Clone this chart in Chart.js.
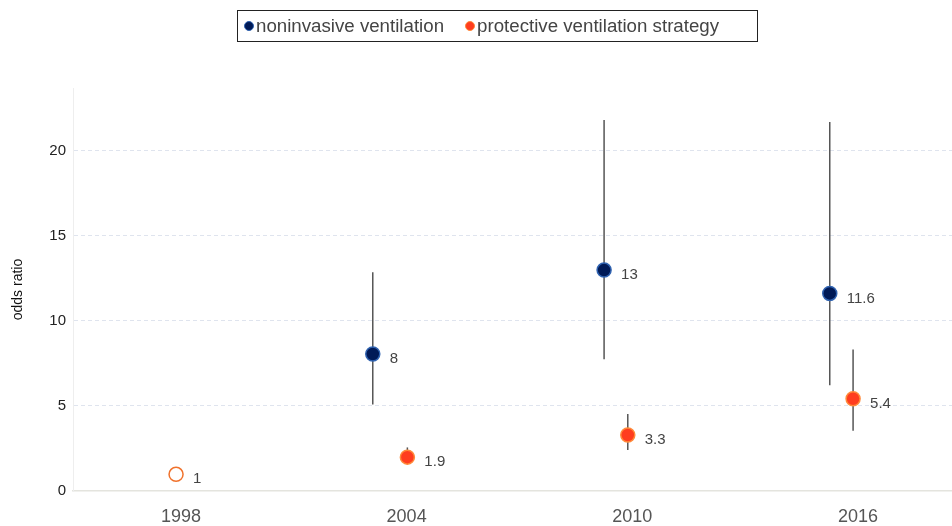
<!DOCTYPE html>
<html>
<head>
<meta charset="utf-8">
<script src="https://cdn.jsdelivr.net/npm/chart.js@4/dist/chart.umd.min.js"></script>
<style>
  html, body { margin: 0; padding: 0; background: #fff; overflow: hidden; }
  #wrap { position: relative; width: 952px; height: 526px; }
  #legend {
    position: absolute; left: 237px; top: 10px; width: 519px; height: 30px;
    border: 1px solid #222; font-family: "Liberation Sans", Arial, sans-serif;
    font-size: 18.7px; color: #444; display: flex; align-items: center; box-sizing: content-box;
  }
  .item { display: flex; align-items: center; white-space: nowrap; }
  .dot { display: inline-block; width: 10px; height: 10px; border-radius: 50%; margin-right: 2px; box-sizing: border-box; }
</style>
</head>
<body>
<div id="wrap">
  <canvas id="c" width="952" height="526"></canvas>
  <div id="legend"></div>
</div>
<script>
// ---- data ----
const tickYears = [1998, 2004, 2010, 2016];
const seriesNames = ["noninvasive ventilation", "protective ventilation strategy"];

const niX = [2003.10, 2009.25, 2015.25];
const niOR = [8.05, 12.98, 11.61];
const niLo = [5.08, 7.74, 6.21];
const niHi = [12.86, 21.8, 21.68];
const niLabels = ["8", "13", "11.6"];

const pvX = [1997.87, 2004.02, 2009.88, 2015.87];
const pvOR = [0.98, 1.99, 3.29, 5.42];
const pvLo = [null, 1.65, 2.41, 3.54];
const pvHi = [null, 2.56, 4.52, 8.32];
const pvLabels = ["1", "1.9", "3.3", "5.4"];

// ---- styles ----
const NAVY = "#001a57", NAVY_EDGE = "#2f62b0";
const ORANGE = "#ff3d1f", ORANGE_EDGE = "#ff8a3a", HOLLOW_EDGE = "#f0722c";
const FONT = "'Liberation Sans', Arial, Helvetica, sans-serif";

// HTML legend
const legendColors = [[NAVY, NAVY_EDGE], [ORANGE, ORANGE_EDGE]];
const legendEl = document.getElementById("legend");
seriesNames.forEach((name, i) => {
  const it = document.createElement("span");
  it.className = "item";
  it.style.marginLeft = i === 0 ? "6px" : "21px";
  const d = document.createElement("span");
  d.className = "dot";
  d.style.background = legendColors[i][0];
  d.style.border = "1px solid " + legendColors[i][1];
  it.appendChild(d);
  it.appendChild(document.createTextNode(name));
  legendEl.appendChild(it);
});

const errorBars = [
  { x: niX, lo: niLo, hi: niHi },
  { x: pvX, lo: pvLo, hi: pvHi }
];
const pointLabels = [niLabels, pvLabels];

const errorBarPlugin = {
  id: "errorBars",
  beforeDatasetsDraw(chart) {
    const { ctx, scales } = chart;
    ctx.save();
    ctx.strokeStyle = "#555";
    ctx.lineWidth = 1.5;
    errorBars.forEach(s => {
      s.x.forEach((xv, i) => {
        if (s.lo[i] == null) return;
        const px = scales.x.getPixelForValue(xv);
        ctx.beginPath();
        ctx.moveTo(px, scales.y.getPixelForValue(s.lo[i]));
        ctx.lineTo(px, scales.y.getPixelForValue(s.hi[i]));
        ctx.stroke();
      });
    });
    ctx.restore();
  }
};

const labelPlugin = {
  id: "pointLabels",
  afterDatasetsDraw(chart) {
    const { ctx } = chart;
    ctx.save();
    ctx.font = "15px " + FONT;
    ctx.fillStyle = "#444";
    ctx.textAlign = "left";
    ctx.textBaseline = "middle";
    chart.data.datasets.forEach((ds, di) => {
      chart.getDatasetMeta(di).data.forEach((el, i) => {
        ctx.fillText(pointLabels[di][i], el.x + 17, el.y + 5);
      });
    });
    ctx.restore();
  }
};

new Chart(document.getElementById("c"), {
  type: "scatter",
  data: {
    datasets: [
      {
        label: seriesNames[0],
        data: niX.map((x, i) => ({ x, y: niOR[i] })),
        backgroundColor: NAVY,
        borderColor: NAVY_EDGE,
        borderWidth: 1.5,
        pointRadius: 7,
        pointHoverRadius: 7
      },
      {
        label: seriesNames[1],
        data: pvX.map((x, i) => ({ x, y: pvOR[i] })),
        backgroundColor: pvX.map((_, i) => i === 0 ? "#ffffff" : ORANGE),
        borderColor: pvX.map((_, i) => i === 0 ? HOLLOW_EDGE : ORANGE_EDGE),
        borderWidth: 1.5,
        pointRadius: 7,
        pointHoverRadius: 7
      }
    ]
  },
  options: {
    responsive: false,
    animation: false,
    layout: { autoPadding: false, padding: { top: 88, right: 0, bottom: 0, left: 0 } },
    plugins: {
      legend: { display: false },
      tooltip: { enabled: false }
    },
    scales: {
      x: {
        type: "linear",
        min: 1995.13,
        max: 2018.5,
        afterBuildTicks(scale) { scale.ticks = tickYears.map(v => ({ value: v })); },
        afterFit(scale) { scale.height = 35; scale.paddingLeft = 0; scale.paddingRight = 0; },
        grid: { display: false, drawTicks: false },
        border: { display: true, color: "#e4e4de", width: 1.5 },
        ticks: {
          padding: 15,
          color: "#555",
          font: { family: FONT, size: 18 },
          callback: v => String(v)
        }
      },
      y: {
        min: 0,
        max: 23.68,
        afterBuildTicks(scale) {
          scale.ticks = [0, 5, 10, 15, 20].map(v => ({ value: v }));
        },
        afterFit(scale) { scale.width = 73; scale.paddingTop = 0; scale.paddingBottom = 0; },
        grid: {
          drawTicks: false,
          color: ctx => ctx.tick && ctx.tick.value === 0 ? "rgba(0,0,0,0)" : "#dfe4ee",
          lineWidth: 1
        },
        border: { display: true, color: "#eeeeee", width: 1, dash: [4, 3], dashOffset: 0 },
        ticks: {
          padding: 7,
          color: "#222",
          font: { family: FONT, size: 15 }
        },
        title: {
          display: true,
          text: "odds ratio",
          color: "#111",
          font: { family: FONT, size: 14 },
          padding: { top: 10, bottom: 0 }
        }
      }
    }
  },
  plugins: [errorBarPlugin, labelPlugin]
});
</script>
</body>
</html>
